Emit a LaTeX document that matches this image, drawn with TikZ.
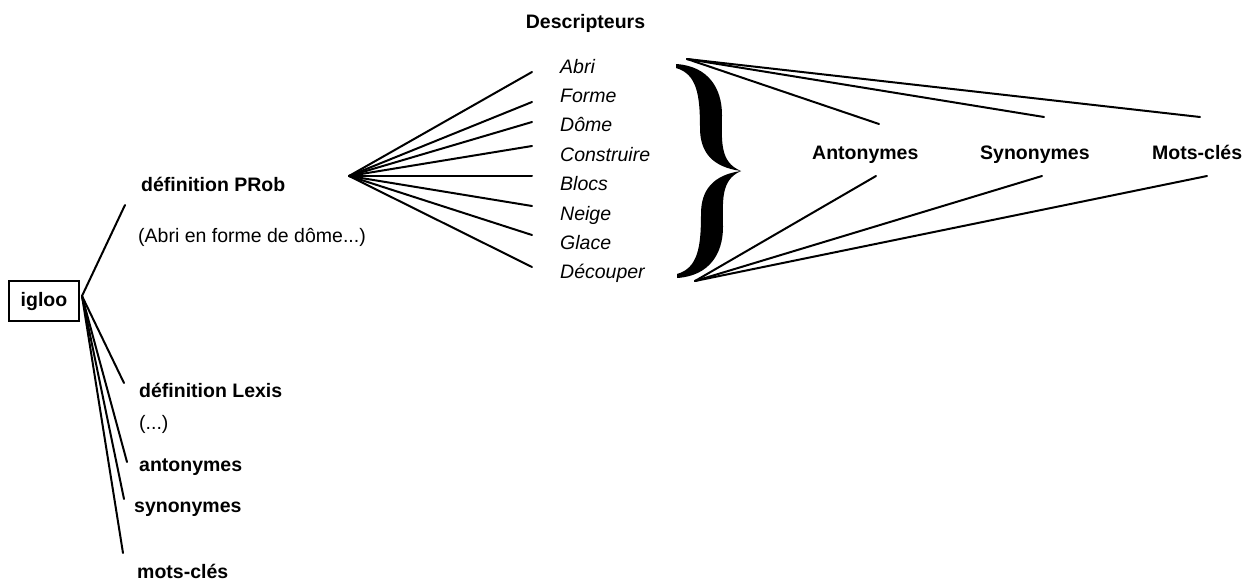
\documentclass[tikz,border=0pt]{standalone}
\usepackage{fontspec}
\setmainfont{Liberation Sans}
\begin{document}
\begin{tikzpicture}[x=1pt,y=-1pt,
  lbl/.style={anchor=base west, inner sep=0pt, font=\fontsize{19.5}{23}\selectfont},
  bl/.style={lbl, font=\fontsize{19.5}{23}\selectfont\bfseries},
  it/.style={lbl, font=\fontsize{19.5}{23}\selectfont\itshape},
  link/.style={line width=2pt, line cap=round},
  rootbox/.style={draw, line width=2.4pt, minimum width=70pt, minimum height=40pt,
    inner sep=0pt, font=\fontsize{19.5}{23}\selectfont\bfseries}]
\useasboundingbox (0,0) rectangle (1243,581);

% root term
\node[rootbox] (igloo) at (44,301) {igloo};
\coordinate (hub) at (82,296);

% left-hand entries
\node[bl] (prob) at (141,191) {définition PRob};
\node[lbl] (probtxt) at (138,242) {(Abri en forme de dôme...)};
\node[bl] (lexis) at (139,397) {définition Lexis};
\node[lbl] (lexistxt) at (139,429) {(...)};
\node[bl] (ant) at (139,471) {antonymes};
\node[bl] (syn) at (134,512) {synonymes};
\node[bl] (mots) at (137,578) {mots-clés};

\coordinate (eprob) at (125,205);
\coordinate (elexis) at (124,383);
\coordinate (eant) at (127,462);
\coordinate (esyn) at (124,499);
\coordinate (emots) at (123,553);
\foreach \e in {eprob,elexis,eant,esyn,emots}
  \draw[link] (hub) -- (\e);

% descriptors
\node[anchor=base, inner sep=0pt, font=\fontsize{19.5}{23}\selectfont\bfseries] (desc) at (585.5,28) {Descripteurs};
\coordinate (fan) at (349,176);
\foreach \w/\ly/\ey [count=\i] in {Abri/73/72, Forme/102.4/102, Dôme/131.8/122, Construire/161.2/146,
    Blocs/190.6/176, Neige/220/206, Glace/249.4/235, Découper/278.8/267}{
  \node[it] (d\i) at (560,\ly) {\w};
  \coordinate (f\i) at (532,\ey);
  \draw[link] (fan) -- (f\i);
}

% large brace
\fill (676,64) .. controls (708,66) and (722,88) .. (722,115)
  .. controls (722,140) and (719,162) .. (741,171)
  .. controls (712,167) and (700,152) .. (700,128)
  .. controls (700,95) and (697,74) .. (676,68) -- cycle;
\fill (677,278) .. controls (709,276) and (723,254) .. (723,227)
  .. controls (723,202) and (720,180) .. (741,171)
  .. controls (713,175) and (701,190) .. (701,214)
  .. controls (701,247) and (698,268) .. (677,274) -- cycle;

% relation labels
\node[bl] (rant) at (812,159) {Antonymes};
\node[bl] (rsyn) at (980,159) {Synonymes};
\node[bl] (rmots) at (1152,159) {Mots-clés};

\coordinate (top) at (687,59);
\coordinate (bot) at (695,281);
\coordinate (tant) at (879,124);
\coordinate (tsyn) at (1044,117);
\coordinate (tmots) at (1200,117);
\coordinate (bant) at (876,176);
\coordinate (bsyn) at (1042,176);
\coordinate (bmots) at (1207,176);
\foreach \e in {tant,tsyn,tmots}
  \draw[link] (top) -- (\e);
\foreach \e in {bant,bsyn,bmots}
  \draw[link] (bot) -- (\e);
\end{tikzpicture}
\end{document}
